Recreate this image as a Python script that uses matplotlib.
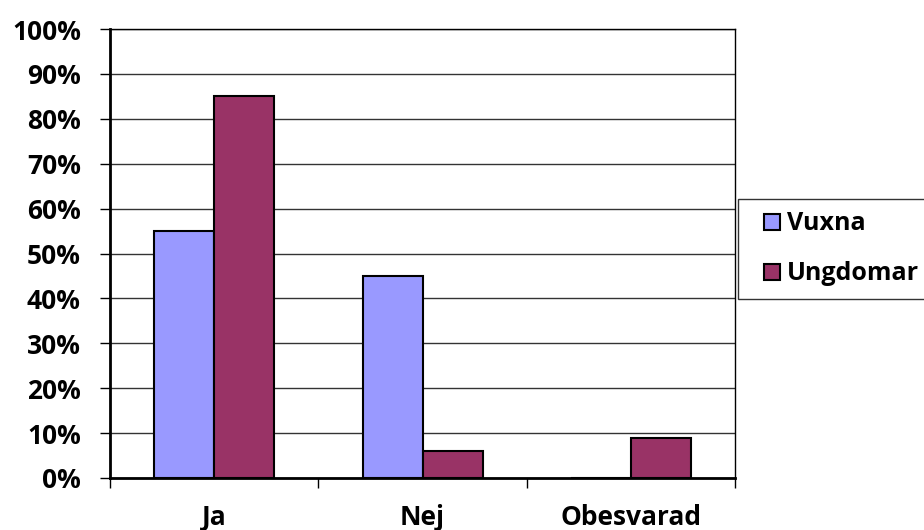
import matplotlib
matplotlib.use("Agg")
import matplotlib.pyplot as plt
import numpy as np
from matplotlib.ticker import FixedLocator, FuncFormatter
from matplotlib.legend_handler import HandlerPatch
from matplotlib.patches import Rectangle

categories = ["Ja", "Nej", "Obesvarad"]
series_names = ["Vuxna", "Ungdomar"]
vuxna = [55, 45, 0]
ungdomar = [85, 6, 9]
y_ticks = [0, 10, 20, 30, 40, 50, 60, 70, 80, 90, 100]

colors = ["#9999FF", "#993366"]

plt.rcParams["font.family"] = ["Open Sans", "DejaVu Sans"]
plt.rcParams["font.weight"] = "bold"
FS = 19
LFS = 18

fig = plt.figure(figsize=(9.24, 5.30), dpi=100)
ax = fig.add_axes([110 / 924, 52 / 530, 625 / 924, 449 / 530])

x = np.arange(len(categories))
w = 0.288
b1 = ax.bar(x - w / 2, vuxna, w, color=colors[0], edgecolor="black", linewidth=1.5, label=series_names[0], zorder=3)
b2 = ax.bar(x + w / 2, ungdomar, w, color=colors[1], edgecolor="black", linewidth=1.5, label=series_names[1], zorder=3)

ax.set_xlim(-0.5, len(categories) - 0.5)
ax.set_ylim(0, 100)

ax.yaxis.set_major_locator(FixedLocator(y_ticks))
ax.yaxis.set_major_formatter(FuncFormatter(lambda v, p: f"{v:.0f}%"))
ax.yaxis.grid(True, color="#333333", linewidth=1.0, zorder=0)
ax.tick_params(axis="y", length=7, width=1.0, labelsize=FS, pad=14)

ax.set_xticks(x)
ax.set_xticklabels(categories, fontsize=FS, fontweight="bold")
ax.set_xticks(np.arange(-0.5, len(categories)), minor=True)
ax.tick_params(axis="x", which="major", length=0, pad=19)
ax.tick_params(axis="x", which="minor", length=7, width=1.0)

for lbl in ax.get_yticklabels():
    lbl.set_fontweight("bold")

ax.spines["left"].set_linewidth(2.0)
ax.spines["bottom"].set_linewidth(2.0)
ax.spines["top"].set_linewidth(1.0)
ax.spines["right"].set_linewidth(1.0)


def square_key(legend, orig_handle, xdescent, ydescent, width, height, fontsize):
    # square legend key (side in points), right-aligned in the handle box
    s = 11.5
    return Rectangle((width - s - xdescent, height / 2 - s / 2 - ydescent), s, s)


leg = fig.legend(handles=[b1[0], b2[0]], labels=series_names, loc="upper left",
                 bbox_to_anchor=(738 / 924, (530 - 199) / 530, 200 / 924, 0.0),
                 mode="expand", fontsize=LFS,
                 frameon=True, fancybox=False, edgecolor="black",
                 handlelength=1.18, handleheight=0.7, handletextpad=0.28,
                 labelspacing=1.0, borderpad=0.5, borderaxespad=0,
                 handler_map={Rectangle: HandlerPatch(patch_func=square_key)})
leg.get_frame().set_linewidth(1.0)
for t in leg.get_texts():
    t.set_fontweight("bold")

fig.savefig("out.png", dpi=100)
